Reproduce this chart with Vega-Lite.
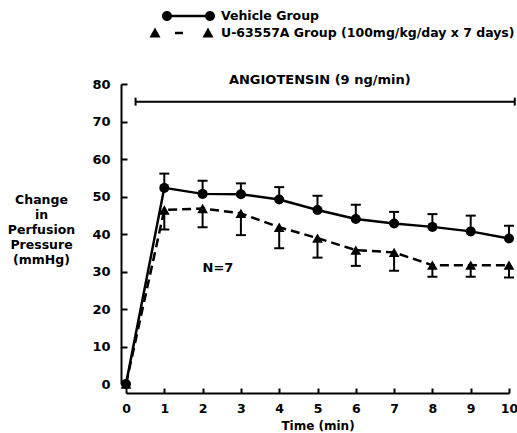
{
  "$schema": "https://vega.github.io/schema/vega-lite/v6.json",
  "width": 383,
  "height": 300,
  "autosize": {"type": "none"},
  "padding": {"left": 126, "top": 84, "right": 8, "bottom": 49},
  "background": "white",
  "config": {
    "view": {"stroke": null},
    "font": "DejaVu Sans",
    "axis": {
      "grid": false,
      "domainColor": "black",
      "domainWidth": 2,
      "ticks": true,
      "tickColor": "black",
      "tickWidth": 2,
      "labelColor": "black",
      "labelFont": "DejaVu Sans",
      "labelFontWeight": "bold",
      "labelFontSize": 13,
      "labelOverlap": false,
      "labelFlush": false,
      "titleColor": "black",
      "titleFont": "DejaVu Sans",
      "titleFontWeight": "bold"
    },
    "axisX": {
      "tickCount": 10,
      "offset": 9,
      "tickSize": -5,
      "labelPadding": 14,
      "labelFontSize": 12.5,
      "titleFontSize": 12,
      "titlePadding": 6
    },
    "axisY": {
      "tickCount": 8,
      "offset": 5,
      "tickSize": -6,
      "labelPadding": 17,
      "titleAngle": 0,
      "titleAlign": "center",
      "titleBaseline": "top",
      "titleFontSize": 12.5,
      "titleLineHeight": 15,
      "titleX": -80,
      "titleY": 109
    }
  },
  "datasets": {
    "series": [
      {"time": 0, "group": "Vehicle Group", "mean": 0, "bar": null},
      {"time": 1, "group": "Vehicle Group", "mean": 52.3, "bar": 56.1},
      {"time": 2, "group": "Vehicle Group", "mean": 50.7, "bar": 54.2},
      {"time": 3, "group": "Vehicle Group", "mean": 50.6, "bar": 53.5},
      {"time": 4, "group": "Vehicle Group", "mean": 49.2, "bar": 52.5},
      {"time": 5, "group": "Vehicle Group", "mean": 46.4, "bar": 50.2},
      {"time": 6, "group": "Vehicle Group", "mean": 44.0, "bar": 47.8},
      {"time": 7, "group": "Vehicle Group", "mean": 42.8, "bar": 45.9},
      {"time": 8, "group": "Vehicle Group", "mean": 41.9, "bar": 45.3},
      {"time": 9, "group": "Vehicle Group", "mean": 40.7, "bar": 44.9},
      {"time": 10, "group": "Vehicle Group", "mean": 38.8, "bar": 42.2},
      {"time": 0, "group": "U-63557A Group (100mg/kg/day x 7 days)", "mean": 0, "bar": null},
      {"time": 1, "group": "U-63557A Group (100mg/kg/day x 7 days)", "mean": 46.4, "bar": 41.2},
      {"time": 2, "group": "U-63557A Group (100mg/kg/day x 7 days)", "mean": 46.8, "bar": 41.8},
      {"time": 3, "group": "U-63557A Group (100mg/kg/day x 7 days)", "mean": 45.5, "bar": 39.7},
      {"time": 4, "group": "U-63557A Group (100mg/kg/day x 7 days)", "mean": 41.8, "bar": 36.2},
      {"time": 5, "group": "U-63557A Group (100mg/kg/day x 7 days)", "mean": 38.9, "bar": 33.7},
      {"time": 6, "group": "U-63557A Group (100mg/kg/day x 7 days)", "mean": 35.7, "bar": 31.5},
      {"time": 7, "group": "U-63557A Group (100mg/kg/day x 7 days)", "mean": 35.1, "bar": 30.2},
      {"time": 8, "group": "U-63557A Group (100mg/kg/day x 7 days)", "mean": 31.7, "bar": 28.6},
      {"time": 9, "group": "U-63557A Group (100mg/kg/day x 7 days)", "mean": 31.7, "bar": 28.6},
      {"time": 10, "group": "U-63557A Group (100mg/kg/day x 7 days)", "mean": 31.7, "bar": 28.4}
    ],
    "annot": [
      {"start": 0.25, "end": 10.15, "level": 75.3, "label": "ANGIOTENSIN (9 ng/min)"}
    ]
  },
  "layer": [
    {
      "data": {"name": "series"},
      "transform": [{"filter": "datum.group === 'Vehicle Group'"}],
      "mark": {"type": "line", "color": "black", "strokeWidth": 2.5, "clip": false},
      "encoding": {
        "x": {
          "field": "time", "type": "quantitative",
          "scale": {"domain": [0, 10], "nice": false},
          "axis": {"title": "Time (min)", "labelOverlap": false}
        },
        "y": {
          "field": "mean", "type": "quantitative",
          "scale": {"domain": [0, 80], "nice": false},
          "axis": {"title": ["Change", "in", "Perfusion", "Pressure", "(mmHg)"], "labelOverlap": false}
        }
      }
    },
    {
      "data": {"name": "series"},
      "transform": [{"filter": "datum.group !== 'Vehicle Group'"}],
      "mark": {"type": "line", "color": "black", "strokeWidth": 2.5, "strokeDash": [9, 5], "clip": false},
      "encoding": {
        "x": {"field": "time", "type": "quantitative"},
        "y": {"field": "mean", "type": "quantitative"}
      }
    },
    {
      "data": {"name": "series"},
      "transform": [{"filter": "datum.bar != null"}],
      "mark": {"type": "rule", "color": "black", "strokeWidth": 2},
      "encoding": {
        "x": {"field": "time", "type": "quantitative"},
        "y": {"field": "mean", "type": "quantitative"},
        "y2": {"field": "bar"}
      }
    },
    {
      "data": {"name": "series"},
      "transform": [{"filter": "datum.bar != null"}],
      "mark": {"type": "point", "shape": "stroke", "size": 100, "strokeWidth": 2, "color": "black", "opacity": 1},
      "encoding": {
        "x": {"field": "time", "type": "quantitative"},
        "y": {"field": "bar", "type": "quantitative"}
      }
    },
    {
      "data": {"name": "series"},
      "transform": [{"filter": "datum.group === 'Vehicle Group'"}],
      "mark": {"type": "point", "shape": "circle", "filled": true, "size": 100, "color": "black", "opacity": 1, "clip": false},
      "encoding": {
        "x": {"field": "time", "type": "quantitative"},
        "y": {"field": "mean", "type": "quantitative"}
      }
    },
    {
      "data": {"name": "series"},
      "transform": [{"filter": "datum.group !== 'Vehicle Group'"}],
      "mark": {"type": "point", "shape": "triangle-up", "filled": true, "size": 115, "color": "black", "opacity": 1, "clip": false},
      "encoding": {
        "x": {"field": "time", "type": "quantitative"},
        "y": {"field": "mean", "type": "quantitative"}
      }
    },
    {
      "data": {"name": "series"},
      "mark": {"type": "point", "filled": true, "size": 400, "color": "black", "opacity": 0, "clip": false},
      "encoding": {
        "x": {"field": "time", "type": "quantitative"},
        "y": {"field": "mean", "type": "quantitative"},
        "shape": {
          "field": "group", "type": "nominal",
          "scale": {
            "domain": ["Vehicle Group", "U-63557A Group (100mg/kg/day x 7 days)"],
            "range": [
              "M-2.3,0A0.5,0.5 0 1,1 -1.3,0A0.5,0.5 0 1,1 -2.3,0Z M2,0A0.5,0.5 0 1,1 3,0A0.5,0.5 0 1,1 2,0Z M-1.8,-0.125L2.5,-0.125L2.5,0.125L-1.8,0.125Z",
              "M-3.55,0.45L-3,-0.55L-2.45,0.45Z M1.75,0.45L2.3,-0.55L2.85,0.45Z M-1,-0.125L-0.2,-0.125L-0.2,0.125L-1,0.125Z"
            ]
          },
          "legend": {
            "orient": "none",
            "legendX": 49,
            "legendY": -78,
            "title": null,
            "padding": 0,
            "symbolSize": 400,
            "rowPadding": -3,
            "labelOffset": 26,
            "symbolOpacity": 1,
            "symbolFillColor": "black",
            "symbolStrokeColor": "black",
            "symbolStrokeWidth": 0,
            "labelFont": "DejaVu Sans",
            "labelFontWeight": "bold",
            "labelFontSize": 12.5,
            "labelColor": "black",
            "labelLimit": 400
          }
        }
      }
    },
    {
      "data": {"name": "annot"},
      "mark": {"type": "rule", "color": "black", "strokeWidth": 2, "clip": false},
      "encoding": {
        "x": {"field": "start", "type": "quantitative"},
        "x2": {"field": "end"},
        "y": {"field": "level", "type": "quantitative"}
      }
    },
    {
      "data": {"name": "annot"},
      "mark": {"type": "point", "shape": "M0,-1L0,1", "size": 64, "strokeWidth": 2, "color": "black", "opacity": 1, "clip": false},
      "encoding": {
        "x": {"field": "start", "type": "quantitative"},
        "y": {"field": "level", "type": "quantitative"}
      }
    },
    {
      "data": {"name": "annot"},
      "mark": {"type": "point", "shape": "M0,-1L0,1", "size": 64, "strokeWidth": 2, "color": "black", "opacity": 1, "clip": false},
      "encoding": {
        "x": {"field": "end", "type": "quantitative"},
        "y": {"field": "level", "type": "quantitative"}
      }
    },
    {
      "data": {"name": "annot"},
      "mark": {"type": "text", "font": "DejaVu Sans", "fontWeight": "bold", "fontSize": 13, "color": "black", "align": "center", "baseline": "middle", "clip": false},
      "encoding": {
        "x": {"datum": 5.06},
        "y": {"datum": 81},
        "text": {"field": "label"}
      }
    },
    {
      "data": {"values": [{"note": "N=7"}]},
      "mark": {"type": "text", "font": "DejaVu Sans", "fontWeight": "bold", "fontSize": 13, "color": "black", "align": "center", "baseline": "middle"},
      "encoding": {
        "x": {"datum": 2.4},
        "y": {"datum": 31},
        "text": {"field": "note"}
      }
    }
  ]
}
